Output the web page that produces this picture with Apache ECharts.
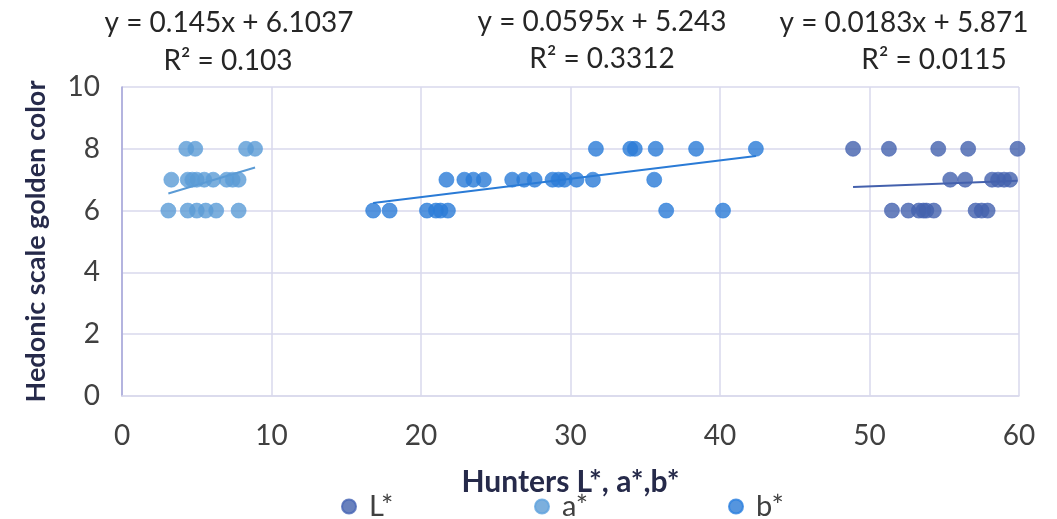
<!DOCTYPE html>
<html>
<head>
<meta charset="utf-8">
<title>Hedonic scale golden color</title>
<script src="https://cdn.jsdelivr.net/npm/echarts@6/dist/echarts.min.js"></script>
<style>
  html, body { margin: 0; padding: 0; background: #fff; }
  #chart { width: 1057px; height: 519px; }
</style>
</head>
<body>
<div id="chart"></div>
<script>
// series names
var seriesNames = ['L*', 'a*', 'b*'];
var seriesColors = ['#4461AD', '#5B9BD5', '#2A7BD6'];

// L* points
var lX = [48.9, 51.3, 54.6, 56.6, 59.9,
          55.4, 56.4, 58.2, 58.6, 59.0, 59.4,
          51.5, 52.6, 53.3, 53.6, 53.8, 54.3, 57.1, 57.5, 57.9];
var lY = [8, 8, 8, 8, 8,
          7, 7, 7, 7, 7, 7,
          6, 6, 6, 6, 6, 6, 6, 6, 6];

// a* points
var aX = [4.3, 4.9, 8.3, 8.9,
          3.3, 4.4, 4.7, 5.0, 5.5, 6.1, 7.0, 7.4, 7.8,
          3.1, 4.4, 5.0, 5.6, 6.3, 7.8];
var aY = [8, 8, 8, 8,
          7, 7, 7, 7, 7, 7, 7, 7, 7,
          6, 6, 6, 6, 6, 6];

// b* points
var bX = [31.7, 34.0, 34.3, 35.7, 38.4, 42.4,
          21.7, 22.9, 23.5, 24.2, 26.1, 26.9, 27.6, 28.8, 29.2, 29.6, 30.4, 31.5, 35.6,
          16.8, 17.9, 20.4, 21.0, 21.3, 21.8, 36.4, 40.2];
var bY = [8, 8, 8, 8, 8, 8,
          7, 7, 7, 7, 7, 7, 7, 7, 7, 7, 7, 7, 7,
          6, 6, 6, 6, 6, 6, 6, 6];

// linear trend lines as printed on the chart
var slopes = [0.0183, 0.145, 0.0595];
var intercepts = [5.871, 6.1037, 5.243];
var eqTexts = ['y = 0.0183x + 5.871', 'y = 0.145x + 6.1037', 'y = 0.0595x + 5.243'];
var r2Texts = ['R² = 0.0115', 'R² = 0.103', 'R² = 0.3312'];

// axis ticks
var xTicks = [0, 10, 20, 30, 40, 50, 60];
var yTicks = [0, 2, 4, 6, 8, 10];

var allX = [lX, aX, bX];
var allY = [lY, aY, bY];

function pairs(xs, ys) {
  var out = [];
  for (var i = 0; i < xs.length; i++) out.push([xs[i], ys[i]]);
  return out;
}

// trend segment spans the x range of its own series
function trend(k) {
  var lo = Math.min.apply(null, allX[k]);
  var hi = Math.max.apply(null, allX[k]);
  return [[lo, slopes[k] * lo + intercepts[k]], [hi, slopes[k] * hi + intercepts[k]]];
}

var myChart = echarts.init(document.getElementById('chart'));

var series = [];
for (var k = 0; k < 3; k++) {
  series.push({
    name: seriesNames[k],
    type: 'scatter',
    symbolSize: 15,
    itemStyle: {
      color: seriesColors[k],
      borderColor: echarts.color.lift(seriesColors[k], -0.05),
      borderWidth: 0.8
    },
    data: pairs(allX[k], allY[k]),
    z: 3
  });
}
for (var k = 0; k < 3; k++) {
  series.push({
    name: seriesNames[k] + ' trend',
    type: 'line',
    symbol: 'none',
    silent: true,
    lineStyle: { color: seriesColors[k], width: 2 },
    data: trend(k),
    z: 4
  });
}

var txtFont = 'Lato, "Open Sans", sans-serif';
// text centre positions: [eq x, eq y, r2 x, r2 y]
var eqCenters = [[904, 23, 934, 60], [229, 23, 228, 61], [602, 22, 602, 59]];
var graphics = [];
for (var k = 0; k < 3; k++) {
  graphics.push({
    type: 'text', x: eqCenters[k][0], y: eqCenters[k][1],
    style: { text: eqTexts[k], font: '28px ' + txtFont, fill: '#262626', align: 'center', verticalAlign: 'middle' }
  });
  graphics.push({
    type: 'text', x: eqCenters[k][2], y: eqCenters[k][3],
    style: { text: r2Texts[k], font: '28px ' + txtFont, fill: '#262626', align: 'center', verticalAlign: 'middle' }
  });
}

var legendLefts = [336, 529, 723];
var legends = [];
for (var k = 0; k < 3; k++) {
  legends.push({
    data: [seriesNames[k]],
    left: legendLefts[k],
    top: 487,
    icon: 'circle',
    itemWidth: 14,
    itemHeight: 14,
    selectedMode: false,
    textStyle: { fontSize: 29, color: '#404040', fontFamily: txtFont, padding: [0, 0, 0, 8] }
  });
}

var option = {
  animation: false,
  backgroundColor: '#ffffff',
  grid: { left: 122, right: 38, top: 87, bottom: 123 },
  legend: legends,
  xAxis: {
    type: 'value',
    min: xTicks[0],
    max: xTicks[xTicks.length - 1],
    interval: xTicks[1] - xTicks[0],
    name: 'Hunters L*, a*,b*',
    nameLocation: 'middle',
    nameGap: 71,
    nameTextStyle: { fontSize: 30, fontWeight: 'bold', color: '#262a4a', fontFamily: txtFont },
    axisLine: { show: true, lineStyle: { color: '#d9d9ec', width: 1.5 } },
    axisTick: { show: false },
    axisLabel: { fontSize: 28, color: '#404040', fontFamily: txtFont, margin: 26 },
    splitLine: { show: true, lineStyle: { color: '#d9d9ec', width: 1.5 } }
  },
  yAxis: {
    type: 'value',
    min: yTicks[0],
    max: yTicks[yTicks.length - 1],
    interval: yTicks[1] - yTicks[0],
    name: 'Hedonic scale golden color',
    nameLocation: 'middle',
    nameGap: 72,
    nameTextStyle: { fontSize: 27, fontWeight: 'bold', color: '#262a4a', fontFamily: txtFont },
    axisLine: { show: true, lineStyle: { color: '#a4a4d8', width: 1.5 } },
    axisTick: { show: false },
    axisLabel: { fontSize: 28, color: '#404040', fontFamily: txtFont, margin: 22 },
    splitLine: { show: true, lineStyle: { color: '#d9d9ec', width: 1.5 } }
  },
  graphic: graphics,
  series: series
};

myChart.setOption(option);
</script>
</body>
</html>
